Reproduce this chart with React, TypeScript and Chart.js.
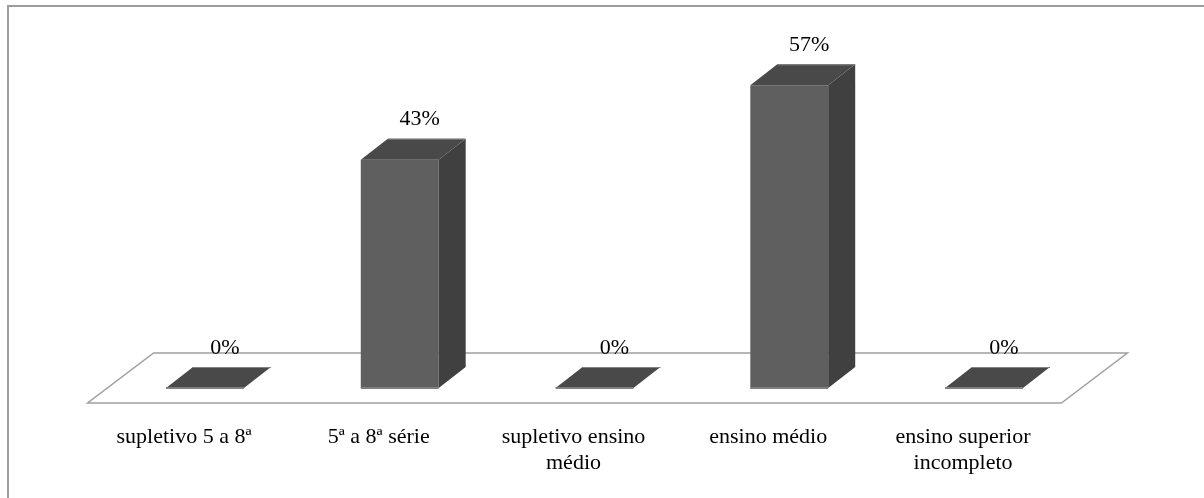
import React, { useEffect, useRef } from "react";
import { Chart, registerables } from "chart.js";

Chart.register(...registerables);

const categories: (string | string[])[] = [
  "supletivo 5 a 8ª",
  "5ª a 8ª série",
  ["supletivo ensino", "médio"],
  "ensino médio",
  ["ensino superior", "incompleto"],
];
const values: number[] = [0, 43, 0, 57, 0];
const valueLabels: string[] = ["0%", "43%", "0%", "57%", "0%"];
const yMin = 0;
const yMax = 60;

const FONT = '"Liberation Serif", "Times New Roman", serif';
const FRONT = "#5f5f5f";
const SIDE = "#404040";
const TOP = "#494949";
const EDGE = "#808080";
const DX = 27;
const DY = 21;

const framePlugin = {
  id: "frame",
  beforeDraw(chart: any) {
    const ctx = chart.ctx;
    ctx.save();
    ctx.fillStyle = "#ffffff";
    ctx.fillRect(0, 0, chart.width, chart.height);
    ctx.strokeStyle = "#9c9c9c";
    ctx.lineWidth = 2;
    ctx.strokeRect(8, 6, 1400, 700);
    ctx.restore();
  },
};

const floorPlugin = {
  id: "floor",
  beforeDatasetsDraw(chart: any) {
    const ctx = chart.ctx;
    const { left, right } = chart.chartArea;
    const base = chart.scales.y.getPixelForValue(0);
    ctx.save();
    ctx.beginPath();
    ctx.moveTo(left - 20, base + 15);
    ctx.lineTo(right - 20, base + 15);
    ctx.lineTo(right + 46, base - 35);
    ctx.lineTo(left + 46, base - 35);
    ctx.closePath();
    ctx.fillStyle = "#ffffff";
    ctx.fill();
    ctx.strokeStyle = "#a0a0a0";
    ctx.lineWidth = 1.5;
    ctx.stroke();
    ctx.restore();
  },
};

const bar3dPlugin = {
  id: "bar3d",
  afterDatasetsDraw(chart: any) {
    const ctx = chart.ctx;
    const meta = chart.getDatasetMeta(0);
    ctx.save();
    meta.data.forEach((el: any, i: number) => {
      const { x, y, base, width } = el.getProps(["x", "y", "base", "width"], true);
      const l = x - width / 2;
      const r = x + width / 2;
      // side face
      if (base - y > 0.5) {
        ctx.beginPath();
        ctx.moveTo(r, y);
        ctx.lineTo(r + DX, y - DY);
        ctx.lineTo(r + DX, base - DY);
        ctx.lineTo(r, base);
        ctx.closePath();
        ctx.fillStyle = SIDE;
        ctx.fill();
      }
      // top face
      ctx.beginPath();
      ctx.moveTo(l, y);
      ctx.lineTo(l + DX, y - DY);
      ctx.lineTo(r + DX, y - DY);
      ctx.lineTo(r, y);
      ctx.closePath();
      ctx.fillStyle = TOP;
      ctx.fill();
      // light edges
      ctx.strokeStyle = EDGE;
      ctx.lineWidth = 1;
      ctx.beginPath();
      ctx.moveTo(l + DX, y - DY + 0.5);
      ctx.lineTo(r + DX, y - DY + 0.5);
      ctx.stroke();
      ctx.lineWidth = 2;
      ctx.beginPath();
      ctx.moveTo(l, base);
      ctx.lineTo(r, base);
      ctx.stroke();
      // value label
      ctx.fillStyle = "#000000";
      ctx.font = "22px " + FONT;
      ctx.textAlign = "center";
      ctx.textBaseline = "middle";
      ctx.fillText(valueLabels[i], x + 20, y - 40);
    });
    ctx.restore();
  },
};

export default function App() {
  const ref = useRef<HTMLCanvasElement>(null);
  useEffect(() => {
    const canvas = ref.current as HTMLCanvasElement;
    const chart = new Chart(canvas, {
      type: "bar",
      data: {
        labels: categories,
        datasets: [
          {
            data: values,
            backgroundColor: FRONT,
            borderWidth: 0,
            barPercentage: 0.4,
            categoryPercentage: 1,
          },
        ],
      },
      options: {
        animation: false,
        responsive: false,
        maintainAspectRatio: false,
        layout: { padding: { left: 107.6, right: 122.6, top: 69.4, bottom: 0 } },
        plugins: { legend: { display: false }, tooltip: { enabled: false } },
        scales: {
          x: {
            grid: { display: false, drawTicks: false },
            border: { display: false },
            ticks: {
              font: { family: FONT, size: 22, lineHeight: 26 / 22 },
              color: "#000000",
              padding: 36,
              labelOffset: -21,
              maxRotation: 0,
              minRotation: 0,
              autoSkip: false,
            },
            afterFit: (s: any) => {
              s.height = 110;
            },
          },
          y: { display: false, min: yMin, max: yMax },
        },
      },
      plugins: [framePlugin, floorPlugin, bar3dPlugin],
    } as any);
    return () => chart.destroy();
  }, []);
  return (
    <div style={{ position: "fixed", left: 0, top: 0, width: 1204, height: 498, background: "#fff" }}>
      <canvas ref={ref} width={1204} height={498} style={{ display: "block" }} />
    </div>
  );
}
